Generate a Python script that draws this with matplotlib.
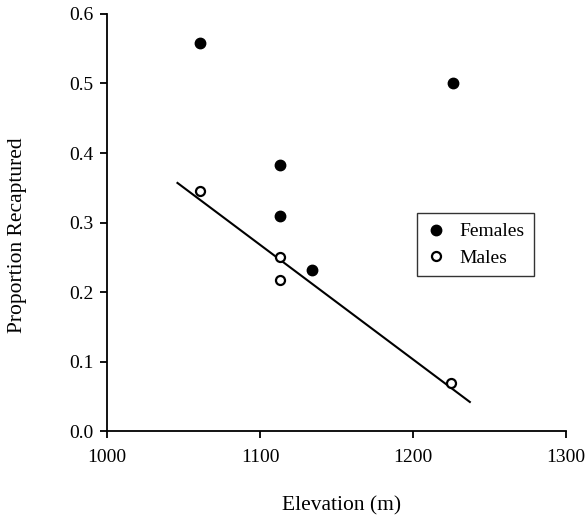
import matplotlib
matplotlib.use('Agg')
import matplotlib.pyplot as plt

plt.rcParams['font.family'] = ['Liberation Serif', 'DejaVu Serif']

# data
fem_x = [1061, 1226, 1113, 1113, 1134]
fem_y = [0.558, 0.500, 0.383, 0.309, 0.232]
male_x = [1061, 1113, 1113, 1225]
male_y = [0.346, 0.251, 0.218, 0.069]
fit_x = [1046, 1237]
fit_y = [0.357, 0.042]

fig = plt.figure(figsize=(5.85, 5.17), dpi=100)
ax = fig.add_axes([0.183, 0.166, 0.785, 0.807])

ax.plot(fit_x, fit_y, color='black', lw=1.5)
ax.plot(fem_x, fem_y, 'o', color='black', ms=7.5, label='Females')
ax.plot(male_x, male_y, 'o', mfc='white', mec='black', mew=1.6, ms=6.5, label='Males')

ax.set_xlim(1000, 1300)
ax.set_ylim(0, 0.6)
ax.set_xticks([1000, 1100, 1200, 1300])
ax.set_yticks([0.0, 0.1, 0.2, 0.3, 0.4, 0.5, 0.6])
ax.set_yticklabels(['0.0', '0.1', '0.2', '0.3', '0.4', '0.5', '0.6'])
ax.spines['top'].set_visible(False)
ax.spines['right'].set_visible(False)
ax.spines['left'].set_linewidth(1.3)
ax.spines['bottom'].set_linewidth(1.3)
ax.tick_params(direction='out', length=5, width=1.3, labelsize=14)
ax.tick_params(axis='x', pad=8)
ax.tick_params(axis='y', pad=5)

ax.set_xlabel('Elevation (m)', fontsize=15.5)
ax.set_ylabel('Proportion Recaptured', fontsize=15.5)
ax.xaxis.set_label_coords(0.51, -0.156)
ax.yaxis.set_label_coords(-0.175, 0.47)

leg = ax.legend(loc='upper left', bbox_to_anchor=(0.674, 0.523), fontsize=14,
                frameon=True, fancybox=False, edgecolor='black', handletextpad=0.7,
                borderpad=0.5, labelspacing=0.45, handlelength=1.0, borderaxespad=0)
leg.get_frame().set_linewidth(1.0)

fig.savefig('out.png', dpi=100)
